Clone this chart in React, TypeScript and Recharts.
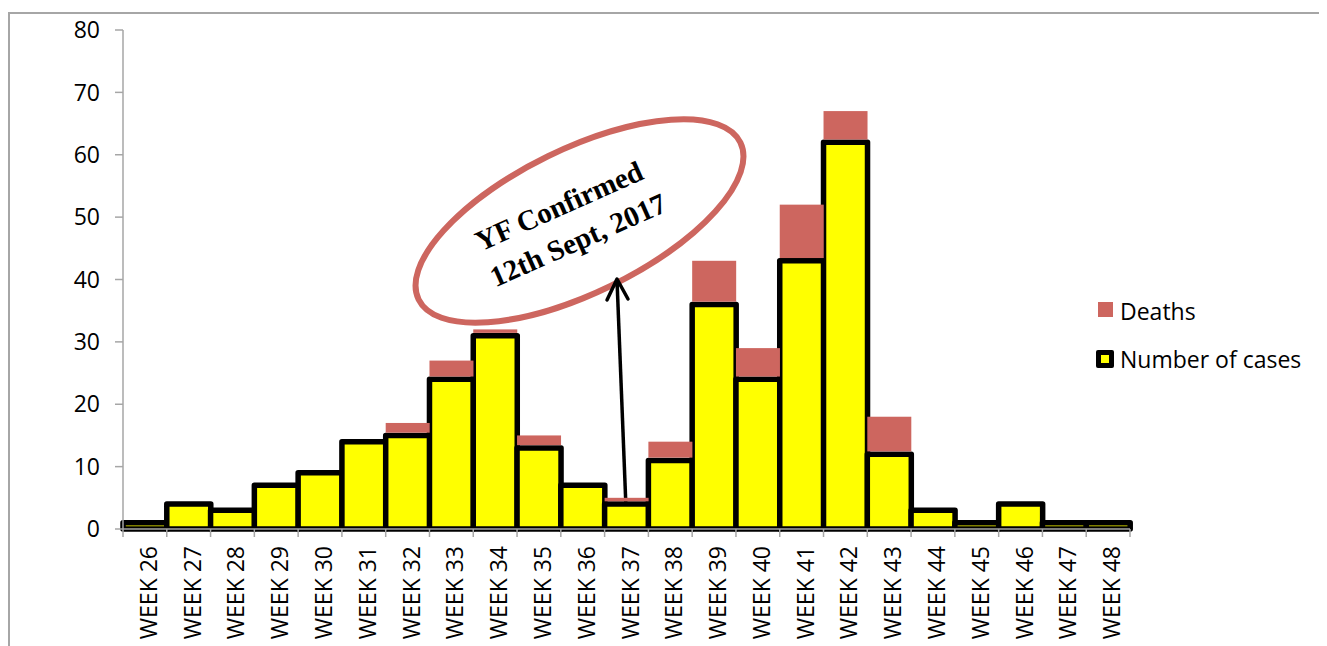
import React from 'react';
import { BarChart, Bar, XAxis, YAxis, Legend, Customized } from 'recharts';

const weeks = ['WEEK 26', 'WEEK 27', 'WEEK 28', 'WEEK 29', 'WEEK 30', 'WEEK 31', 'WEEK 32', 'WEEK 33', 'WEEK 34', 'WEEK 35', 'WEEK 36', 'WEEK 37', 'WEEK 38', 'WEEK 39', 'WEEK 40', 'WEEK 41', 'WEEK 42', 'WEEK 43', 'WEEK 44', 'WEEK 45', 'WEEK 46', 'WEEK 47', 'WEEK 48'];
const cases = [1, 4, 3, 7, 9, 14, 15, 24, 31, 13, 7, 4, 11, 36, 24, 43, 62, 12, 3, 1, 4, 1, 1];
const deaths = [0, 0, 0, 0, 0, 0, 2, 3, 1, 2, 0, 1, 3, 7, 5, 9, 5, 6, 0, 0, 0, 0, 0];
const yTicks = [0, 10, 20, 30, 40, 50, 60, 70, 80];
const annotationLines = ['YF Confirmed', '12th Sept, 2017'];

const data = weeks.map((w, i) => ({ week: w, cases: cases[i], deaths: deaths[i] }));

const CHART_W = 1319;
const CHART_H = 638;
const MARGIN = { top: 22, right: 197, bottom: 7, left: 0 };
const Y_AXIS_W = 115;
const PLOT_W = CHART_W - MARGIN.right - MARGIN.left - Y_AXIS_W;
const BAND = PLOT_W / weeks.length;
const FONT = "'Open Sans', 'Noto Sans', sans-serif";
const SERIF = "'Liberation Serif', 'Times New Roman', serif";
const GRAY = '#A6A6A6';
const YELLOW = '#FFFF00';
const RED = '#CD665F';

const WeekTick = (props: any) => {
  const { x, y, payload, index } = props;
  const left = x - BAND / 2;
  const right = x + BAND / 2;
  return (
    <g>
      <line x1={left} y1={y} x2={left} y2={y + 8} stroke={GRAY} strokeWidth={1.5} />
      {index === weeks.length - 1 && (
        <line x1={right} y1={y} x2={right} y2={y + 8} stroke={GRAY} strokeWidth={1.5} />
      )}
      <text
        transform={`translate(${x + 12},${y + 17}) rotate(-90)`}
        textAnchor="end"
        fontSize={23}
        fontFamily={FONT}
        fill="#000"
      >
        {payload.value}
      </text>
    </g>
  );
};

const DeathShape = (p: any) => {
  if (!p.height || p.height <= 0) return null;
  const h = Math.max(0, p.height - 2.75);
  return <rect x={p.x} y={p.y} width={p.width} height={h} fill={RED} />;
};

const LegendContent = () => (
  <svg width={230} height={95}>
    <rect x={10} y={14} width={15} height={15} fill={RED} />
    <text x={32} y={32} fontSize={23} fontFamily={FONT} fill="#000">Deaths</text>
    <rect x={8} y={62} width={18} height={18} rx={2} fill="#000" />
    <rect x={13} y={67} width={8} height={8} fill={YELLOW} />
    <text x={32} y={80} fontSize={23} fontFamily={FONT} fill="#000">Number of cases</text>
  </svg>
);

const Overlay = () => (
  <g>
    <rect x={1} y={5} width={1500} height={900} fill="none" stroke={GRAY} strokeWidth={2} />
    <ellipse
      cx={571.5}
      cy={213}
      rx={179}
      ry={72}
      transform="rotate(-26 571.5 213)"
      fill="none"
      stroke={RED}
      strokeWidth={6}
    />
    <text
      x={555}
      y={207}
      textAnchor="middle"
      transform="rotate(-24 555 207)"
      fontFamily={SERIF}
      fontWeight="bold"
      fontSize={29}
      fill="#000"
    >
      {annotationLines[0]}
    </text>
    <text
      x={574}
      y={241}
      textAnchor="middle"
      transform="rotate(-24 574 241)"
      fontFamily={SERIF}
      fontWeight="bold"
      fontSize={29}
      fill="#000"
    >
      {annotationLines[1]}
    </text>
    <line x1={618} y1={500} x2={609} y2={272} stroke="#000" strokeWidth={3.5} />
    <polyline points="599,292 609,271 620,291" fill="none" stroke="#000" strokeWidth={3.5} strokeLinecap="round" strokeLinejoin="round" />
  </g>
);

export default function App() {
  return (
    <div style={{ width: CHART_W, height: CHART_H, fontFamily: FONT }}>
      <BarChart
        width={CHART_W}
        height={CHART_H}
        data={data}
        margin={MARGIN}
        barCategoryGap={0}
        barGap={0}
      >
        <XAxis
          dataKey="week"
          interval={0}
          tickLine={false}
          tickSize={0}
          tickMargin={0}
          axisLine={{ stroke: GRAY, strokeWidth: 1.5 }}
          height={110}
          tick={<WeekTick />}
        />
        <YAxis
          type="number"
          domain={[0, 80]}
          ticks={yTicks}
          width={Y_AXIS_W}
          tickSize={8}
          tickMargin={15}
          axisLine={{ stroke: GRAY, strokeWidth: 1.5 }}
          tickLine={{ stroke: GRAY, strokeWidth: 1.5 }}
          tick={{ fill: '#000', fontSize: 23, fontFamily: FONT }}
        />
        <Bar dataKey="cases" name="Number of cases" stackId="a" fill={YELLOW} stroke="#000" strokeWidth={5.5} strokeLinejoin="round" isAnimationActive={false} />
        <Bar dataKey="deaths" name="Deaths" stackId="a" fill={RED} shape={<DeathShape />} isAnimationActive={false} />
        <Legend
          layout="vertical"
          align="center"
          verticalAlign="middle"
          content={<LegendContent />}
          wrapperStyle={{ position: 'absolute', left: 1080, top: 280, width: 230, height: 95 }}
        />
        <Customized component={Overlay} />
      </BarChart>
    </div>
  );
}
